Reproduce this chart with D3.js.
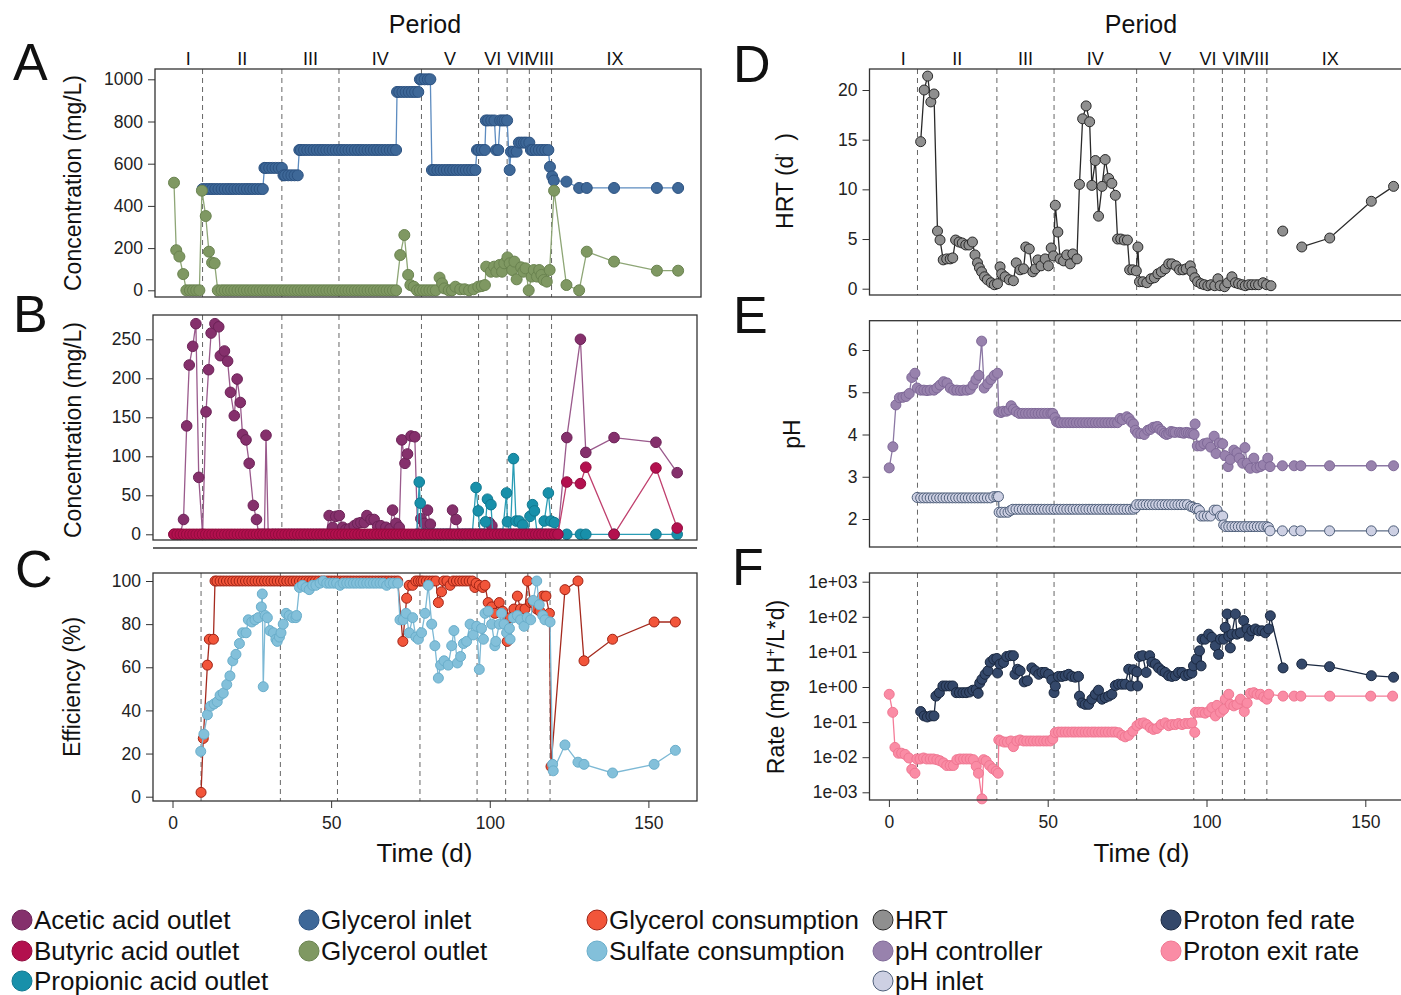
<!DOCTYPE html>
<html><head><meta charset="utf-8">
<script src="https://cdn.jsdelivr.net/npm/d3@7"></script>
<style>body{margin:0;background:#fff}svg text{font-family:"Liberation Sans",Arial,Helvetica,sans-serif;fill:#111}</style>
</head><body><svg id="c" width="1401" height="995"></svg>
<script>
// ---------- DATA ----------
const periodEdges=[0,9,34,52,78,96,105,112,119,159];
const periodNames=["I","II","III","IV","V","VI","VII","VIII","IX"];
const xTickValues=[0,50,100,150];
const ticksA=[0,200,400,600,800,1000];
const ticksB=[0,50,100,150,200,250];
const ticksC=[0,20,40,60,80,100];
const ticksD=[0,5,10,15,20];
const ticksE=[2,3,4,5,6];
const ticksF=[1e-3,1e-2,1e-1,1,10,100,1000];

const glycerolInlet=[[9,480],[10,480],[11,480],[12,480],[13,480],[14,480],[15,480],[16,480],[17,480],[18,480],[19,480],[20,480],[21,480],[22,480],[23,480],[24,480],[25,480],[26,480],[27,480],[28,480],[28.5,580],[29,580],[30,580],[31,580],[32,580],[33,580],[34,580],[34.5,545],[35,545],[36,545],[37,545],[38,545],[39,545],[39.5,665],[40,665],[41,665],[42,665],[43,665],[44,665],[45,665],[46,665],[47,665],[48,665],[49,665],[50,665],[51,665],[52,665],[53,665],[54,665],[55,665],[56,665],[57,665],[58,665],[59,665],[60,665],[61,665],[62,665],[63,665],[64,665],[65,665],[66,665],[67,665],[68,665],[69,665],[70,665],[70.3,940],[71,940],[72,940],[73,940],[74,940],[75,940],[76,940],[77,940],[77.5,1000],[78,1000],[79,1000],[80,1000],[80.8,1000],[81.3,570],[82,570],[83,570],[84,570],[85,570],[86,570],[87,570],[88,570],[89,570],[90,570],[91,570],[92,570],[93,570],[94,570],[95,570],[95.5,665],[96,665],[97,665],[98,665],[98.3,805],[99,805],[100,805],[101,805],[101.5,665],[102.2,665],[102.8,805],[103.5,805],[104.2,805],[105,805],[105.8,570],[106.2,657],[107,657],[108,657],[108.7,700],[109.5,700],[110.3,700],[111,700],[112,700],[112.5,665],[113,665],[114,665],[115,665],[116,665],[117,665],[118,665],[118.5,585],[119.2,540],[119.7,520],[123.7,515],[127.7,485],[130.1,485],[138.7,485],[152.2,485],[158.9,485]];

const glycerolOutlet=[[0,510],[0.7,190],[1.7,160],[2.9,77],[3.9,0],[5,0],[6,0],[7,0],[8,0],[8.8,472],[10,352],[11,183],[12,131],[12.8,128],[13.8,0],[15,0],[16,0],[17,0],[18,0],[19,0],[20,0],[21,0],[22,0],[23,0],[24,0],[25,0],[26,0],[27,0],[28,0],[29,0],[30,0],[31,0],[32,0],[33,0],[34,0],[35,0],[36,0],[37,0],[38,0],[39,0],[40,0],[41,0],[42,0],[43,0],[44,0],[45,0],[46,0],[47,0],[48,0],[49,0],[50,0],[51,0],[52,0],[53,0],[54,0],[55,0],[56,0],[57,0],[58,0],[59,0],[60,0],[61,0],[62,0],[63,0],[64,0],[65,0],[66,0],[67,0],[68,0],[69,0],[70,0],[71.3,167],[72.6,262],[73.8,73],[74.5,25],[75.6,17],[76.6,0],[77.5,0],[78.5,0],[79.5,0],[80.5,0],[81.5,0],[82.5,0],[83.7,60],[84.5,33],[85.2,9],[86.6,0],[87.6,0],[88.7,17],[90.2,5],[91.6,5],[93,0],[94.4,5],[95.9,17],[97,20],[98,25],[98.4,112],[99.9,88],[100.9,112],[101.6,88],[102.6,120],[103.4,88],[104.1,128],[105.1,156],[105.8,128],[106.6,96],[107.3,136],[108,52],[109.4,109],[110.1,88],[110.8,104],[111.8,0],[112.7,65],[113.4,96],[114.4,65],[115.1,96],[115.8,73],[116.5,49],[117.5,41],[118.4,96],[119.8,472],[123.7,25],[127.7,0],[130.1,183],[138.7,136],[152.2,93],[158.9,93]];

const aceticOutlet=[[0,0],[1,0],[2,0],[3,19],[4,139],[4.8,217],[5.9,241],[6.9,270],[7.8,73],[9,0],[10.1,157],[10.9,211],[11.7,258],[12.9,270],[14.1,266],[14.6,229],[15.9,235],[16.9,222],[17.8,182],[19,152],[19.9,199],[20.9,169],[21.6,128],[22.7,121],[23.7,91],[25,37],[26,19],[26.7,0],[27.6,0],[28.5,0],[29,127],[29.7,0],[31,0],[32,0],[33,0],[34,0],[35,0],[36,0],[37,0],[38,0],[39,0],[40,0],[41,0],[42,0],[43,0],[44,0],[45,0],[46,0],[47,0],[48,0],[48.9,24],[50,9],[51,23],[52.1,24],[53.2,9],[54.2,6],[55.3,7],[56.8,11],[57.9,14],[58.9,15],[60,15],[60.8,24],[62.1,19],[63.1,19],[64.2,10],[65.2,11],[66.8,9],[68.1,7],[68.9,31],[70,14],[71,9],[71.8,121],[72.8,91],[73.6,103],[74.7,126],[75.9,125],[76.8,0],[77.8,20],[78.9,14],[79.9,31],[80.8,13],[82,0],[83,0],[84,0],[85,0],[86,0],[86.8,0],[87.8,31],[88.9,19],[89.9,0],[91,0],[92,0],[93,0],[94,0],[95,0],[96,0],[97,0],[98,0],[99.4,15],[100.2,11],[101.2,0],[102,0],[103,0],[104,0],[105,0],[106,0],[107,0],[108,0],[109,0],[110,0],[111,0],[112,0],[113,0],[114,0],[115,0],[116,0],[117,0],[118,0],[119,0],[120,0],[121,0],[123.8,124],[128.1,250],[129.8,105],[138.7,124],[151.9,118],[158.6,79]];

const butyricOutlet=[[0,0],[1,0],[2,0],[3,0],[4,0],[5,0],[6,0],[7,0],[8,0],[9,0],[10,0],[11,0],[12,0],[13,0],[14,0],[15,0],[16,0],[17,0],[18,0],[19,0],[20,0],[21,0],[22,0],[23,0],[24,0],[25,0],[26,0],[27,0],[28,0],[29,0],[30,0],[31,0],[32,0],[33,0],[34,0],[35,0],[36,0],[37,0],[38,0],[39,0],[40,0],[41,0],[42,0],[43,0],[44,0],[45,0],[46,0],[47,0],[48,0],[49,0],[50,0],[51,0],[52,0],[53,0],[54,0],[55,0],[56,0],[57,0],[58,0],[59,0],[60,0],[61,0],[62,0],[63,0],[64,0],[65,0],[66,0],[67,0],[68,0],[69,0],[70,0],[71,0],[72,0],[73,0],[74,0],[75,0],[76,0],[77,0],[78,0],[79,0],[80,0],[81,0],[82,0],[83,0],[84,0],[85,0],[86,0],[87,0],[88,0],[89,0],[90,0],[91,0],[92,0],[93,0],[94,0],[95,0],[96,0],[97,0],[98,0],[99,0],[100,0],[101,0],[102,0],[103,0],[104,0],[105,0],[106,0],[107,0],[108,0],[109,0],[110,0],[111,0],[112,0],[113,0],[114,0],[115,0],[116,0],[117,0],[118,0],[119,0],[120,0],[121,0],[123.8,67],[128.1,65],[129.8,86],[138.7,0],[151.9,85],[158.6,8]];

const propionicOutlet=[[76.5,0],[77.3,67],[77.6,40],[78,0],[79,0],[80,0],[81,0],[82,0],[83,0],[84,0],[85,0],[86,0],[87,0],[88,0],[89,0],[90,0],[91,0],[92,0],[93,0],[94,0],[95.2,60],[95.9,30],[96.5,0],[97.5,0],[98.2,16],[98.8,45],[99.9,38],[100.5,0],[101.5,0],[102.5,0],[103.5,0],[104.8,53],[105.1,16],[106,0],[107,97],[107.8,17],[108.8,17],[109.9,12],[110.8,0],[111.5,0],[112.2,23],[113,38],[113.6,30],[114.5,0],[115.5,0],[116.7,17],[118,53],[118.8,17],[119.9,15],[120.8,0],[123.8,0],[128.1,0],[129.8,0],[138.7,0],[151.9,0],[158.6,0]];

const glycerolConsumption=[[9,2],[9.7,27],[11,61],[11.6,73],[12.9,73],[13.4,100],[14,100],[15,100],[16,100],[17,100],[18,100],[19,100],[20,100],[21,100],[22,100],[23,100],[24,100],[25,100],[26,100],[27,100],[28,100],[29,100],[30,100],[31,100],[32,100],[33,100],[34,100],[35,100],[36,100],[37,100],[38,100],[39,100],[40,100],[41,100],[42,100],[43,100],[44,100],[45,100],[46,100],[47,100],[48,100],[49,100],[50,100],[51,100],[52,100],[53,100],[54,100],[55,100],[56,100],[57,100],[58,100],[59,100],[60,100],[61,100],[62,100],[63,100],[64,100],[65,100],[66,100],[67,100],[68,100],[69,100],[70,100],[71,100],[72.6,72],[73.8,92],[74.6,98],[75.7,98],[76.7,100],[77.5,100],[78.3,100],[79,100],[80,100],[81,100],[82,100],[83,100],[83.8,90],[84.8,95],[85.5,100],[86.5,100],[87.5,98],[88.5,100],[89.5,100],[90.5,100],[91.5,100],[92.5,100],[93.5,100],[94.5,100],[95.3,97],[95.7,99],[96.7,98],[97.8,97],[98.5,98],[99.5,90],[100.6,88],[101.6,85],[103,90],[104.1,86],[105.5,72],[106.4,83],[107.6,87],[108.7,93],[109.7,87],[111.1,87],[111.9,100],[112.9,90],[113.7,90],[114.8,87],[115.8,86],[116.7,93],[117.7,93],[118.8,85],[119.3,14],[123.7,96],[127.8,100],[129.7,63],[138.7,73],[151.8,81],[158.5,81]];

const sulfateConsumption=[[8.9,21],[9.9,29],[11,38],[12,42],[13.1,43],[14.1,44],[15,47],[16,48],[17.1,52],[18.1,56],[19,63],[20,66],[21.1,71],[22.1,76],[23.2,76],[23.9,82],[25,81],[26,82],[27,83],[28,88],[28.3,94],[28.6,51],[29.2,84],[29.9,83],[30.7,77],[31.8,76],[32.6,73],[33,72],[33.7,74],[34.2,76],[34.9,80],[35.8,85],[36.8,84],[37.9,83],[38.9,83],[39.1,84],[40,97],[41,98],[42.1,97],[43.1,96],[44.2,98],[45.2,98],[46.5,99],[47.5,100],[48.6,99],[49.6,99],[50.7,99],[51.7,99],[52.8,98],[53.8,99],[54.9,99],[55.9,99],[57,99],[58,99],[59.1,99],[60.1,99],[61.2,99],[62.2,99],[63.3,99],[64.3,99],[65.4,99],[66.4,99],[67.5,98],[68.5,99],[69.6,99],[71,99],[71.7,82],[72.7,82],[73.6,85],[74.6,76],[75.7,83],[76.7,74],[77.5,73],[78.5,76],[79.6,85],[80.6,98],[81.7,80],[82.7,70],[83.8,55],[84.5,61],[85.6,63],[86.9,61],[88,70],[88.7,77],[89.8,62],[90.8,65],[91.7,71],[92.7,72],[93.8,80],[94.8,75],[95.9,79],[96.7,59],[97.4,78],[98,73],[98.5,85],[99.5,86],[100.6,80],[101.6,70],[101.9,72],[103,80],[103.7,85],[104.5,80],[105.3,76],[106.2,78],[106.4,73],[107.4,83],[108.7,84],[109.7,82],[110.8,79],[111.8,83],[112.9,82],[113.7,91],[114.8,100],[115.6,89],[116.7,84],[117.4,82],[119,81],[119.8,15],[120,12],[123.7,24],[127.8,16],[129.7,15],[138.7,11],[151.8,15],[158.5,21.5]];

const hrt=[[10,14.8],[11.1,20],[12.2,21.4],[13.2,18.8],[14.2,19.6],[15.3,5.8],[16.1,4.9],[17.1,2.9],[18.2,3],[19.3,3],[20.1,3.1],[21,4.9],[22.1,4.7],[23.1,4.6],[24.2,4.4],[25.2,4.4],[26.3,4.7],[27.1,3.4],[27.9,2.6],[28.5,2.1],[29.2,1.7],[30.1,1.2],[31,0.9],[32.2,0.6],[33.2,0.4],[34.2,0.5],[35,2.2],[35.5,1.5],[36.6,1.2],[37.9,0.9],[39.2,0.8],[40.1,2.6],[41.3,1.9],[42.4,2],[43.1,4.2],[44.2,4],[45.3,1.7],[46.1,2],[46.9,2.9],[47.9,2.3],[49.2,3],[50.2,2.3],[51.1,4.1],[51.8,3.3],[52.4,8.4],[53.2,5.7],[53.9,3],[55,2.8],[56,3.4],[57.1,2.5],[57.9,3.5],[59.2,3],[60,10.5],[61,17.1],[62.1,18.4],[63.2,16.8],[63.9,10.4],[65,12.9],[66,7.3],[67.1,10.3],[68.1,13],[69.2,11.1],[70.2,10.6],[71.3,9.4],[72,5],[73,5],[74.1,4.9],[75.1,4.9],[75.8,1.9],[76.8,1.9],[77.9,1.8],[78.4,4.2],[78.9,0.7],[80,0.7],[81.2,0.6],[82.5,1],[83.6,1.1],[84.7,1.5],[85.8,1.7],[87,2],[88.1,2.5],[89.1,2.5],[90.4,2.3],[91.5,1.9],[92.6,1.9],[93.6,2],[94.9,2.3],[95.4,1.7],[96.3,1.1],[97.2,0.7],[98.3,0.5],[99.3,0.4],[100.4,0.3],[101.4,0.4],[102.6,0.3],[103.6,1],[104.3,0.3],[105.7,0.2],[106.7,0.6],[108,1.2],[109.1,0.6],[110.1,0.5],[111.2,0.4],[112.2,0.3],[113.3,0.4],[114.3,0.4],[115.4,0.4],[116.4,0.4],[117.8,0.6],[118.9,0.4],[120.3,0.3],[121,null],[124,5.8],[128,null],[130,4.2],[138.8,5.1],[151.9,8.8],[158.9,10.3]];

const phController=[[0.1,3.21],[1.25,3.71],[2.2,4.7],[3.3,4.87],[4.4,4.88],[5.4,4.9],[6.4,4.97],[7.2,5.35],[8.2,5.45],[8.9,5.1],[10,5.05],[11,5.05],[12,5.04],[13,5.05],[14.2,5.05],[15.1,5.1],[16.1,5.17],[17.2,5.25],[18.3,5.22],[19.3,5.1],[20.4,5.05],[21.4,5.05],[22.5,5.04],[23.5,5.05],[24.6,5.05],[25.6,5.07],[26.5,5.17],[27.4,5.3],[28.3,5.4],[29.2,6.21],[30,5.1],[31.1,5.2],[32.1,5.3],[33.2,5.4],[34.2,5.45],[34.6,4.54],[35.3,4.52],[36,4.55],[37,4.55],[37.8,4.58],[38.5,4.68],[39.2,4.6],[40.1,4.54],[41,4.5],[42,4.5],[43,4.5],[44,4.5],[45,4.5],[46,4.5],[47,4.5],[48,4.5],[49,4.5],[50,4.5],[51,4.5],[51.6,4.5],[52.3,4.4],[52.8,4.3],[53.5,4.28],[54,4.28],[55,4.28],[56,4.28],[57,4.28],[58,4.28],[59,4.28],[60,4.28],[61,4.28],[62,4.28],[63,4.28],[64,4.28],[65,4.28],[66,4.28],[67,4.28],[68,4.28],[69,4.28],[70,4.28],[71,4.28],[72,4.28],[72.8,4.38],[73.5,4.35],[74.9,4.42],[75.6,4.38],[76.3,4.3],[77,4.25],[77.6,4.1],[78.3,4.03],[79.3,4.02],[80.4,4],[81.5,4.1],[82.3,4.12],[83.2,4.17],[84,4.18],[84.6,4.19],[85.3,4.12],[86,4.08],[86.7,4.03],[87.4,4],[88.1,4.02],[88.8,4.07],[89.5,4.06],[90.1,4.05],[91.5,4.05],[92.2,4.04],[92.9,4.03],[93.6,4.05],[94.3,4.04],[95,4.03],[95.7,4.03],[96.1,4],[96.4,4.25],[97.1,3.73],[98.2,3.73],[99.2,3.78],[100.3,3.8],[101.3,3.7],[102.4,3.96],[103,3.55],[104,3.8],[105.1,3.78],[105.8,3.5],[106.8,3.24],[107.5,3.41],[108.6,3.63],[109.6,3.57],[110.3,3.44],[111.4,3.32],[112.1,3.69],[112.8,3.32],[113.8,3.2],[114.9,3.44],[115.8,3.21],[116.9,3.24],[117.9,3.28],[119.3,3.44],[120,3.24],[123.9,3.26],[127.6,3.26],[129.7,3.26],[138.75,3.26],[151.9,3.26],[158.9,3.26]];

const phInlet=[[8.9,2.51],[10,2.5],[11,2.5],[12,2.5],[13,2.5],[14,2.5],[15,2.5],[16,2.5],[17,2.5],[18,2.5],[19,2.5],[20,2.5],[21,2.5],[22,2.5],[23,2.5],[24,2.5],[25,2.5],[26,2.5],[27,2.5],[28,2.5],[29,2.5],[30,2.5],[31,2.5],[32,2.5],[33,2.53],[34,2.53],[34.5,2.53],[34.7,2.16],[35.5,2.16],[36.5,2.16],[37.5,2.16],[38.3,2.2],[39,2.23],[40,2.23],[41,2.23],[42,2.23],[43,2.23],[44,2.23],[45,2.23],[46,2.23],[47,2.23],[48,2.23],[49,2.23],[50,2.23],[51,2.23],[52,2.23],[53,2.23],[54,2.23],[55,2.23],[56,2.23],[57,2.23],[58,2.23],[59,2.23],[60,2.23],[61,2.23],[62,2.23],[63,2.23],[64,2.23],[65,2.23],[66,2.23],[67,2.23],[68,2.23],[69,2.23],[70,2.23],[71,2.23],[72,2.23],[73,2.23],[74,2.23],[75,2.23],[76,2.23],[77,2.23],[77.6,2.26],[78,2.34],[79,2.34],[80,2.34],[81,2.34],[82,2.34],[83,2.34],[84,2.34],[85,2.34],[86,2.34],[87,2.34],[88,2.34],[89,2.34],[90,2.34],[91,2.34],[92,2.34],[93,2.34],[94,2.34],[95,2.3],[95.7,2.28],[96.5,2.25],[97.1,2.25],[97.8,2.2],[98.2,2.07],[99.2,2.07],[100.3,2.07],[101.3,2.07],[102.4,2.21],[103.3,2.21],[104.4,2.07],[105.1,2.07],[105.4,1.86],[106.1,1.82],[107,1.82],[108,1.82],[109,1.82],[110,1.82],[111,1.82],[112,1.82],[113,1.82],[114,1.82],[115,1.82],[116,1.82],[117,1.82],[118,1.82],[119,1.82],[119.5,1.8],[120,1.72],[123.9,1.72],[127.6,1.72],[129.7,1.72],[138.75,1.72],[151.9,1.72],[158.9,1.72]];

const protonFedRate=[[10,0.2],[11.1,0.15],[12.1,0.14],[13.2,0.15],[14.2,0.15],[14.8,0.55],[15.9,0.69],[17,1.07],[18,1.07],[19.1,1.07],[20.1,1.07],[21.2,0.69],[22.2,0.69],[23.3,0.69],[24.3,0.69],[25.4,0.72],[26.4,0.81],[27.5,0.85],[28.1,0.66],[28.6,1.3],[29.3,1.66],[30.3,2.3],[31.2,2.9],[31.9,5.1],[33,6.2],[34,6.5],[34.2,2.5],[35,4.5],[36.1,5],[37.1,7.4],[38.2,7.8],[39.2,7.8],[39.7,2.3],[40.5,3.2],[41.3,2.9],[42.6,1.4],[43.6,1.5],[45,3.5],[46.1,2.9],[47.2,2.3],[48.2,2.6],[49.2,2.6],[50.3,2.3],[51.3,1.6],[52,0.69],[52.4,1.07],[53.4,2],[54.5,2],[55.5,2.1],[56.6,2.3],[57.6,2],[58.7,1.9],[59.7,2],[60,0.55],[60.8,0.35],[61.8,0.32],[62.9,0.32],[63.9,0.45],[65,0.62],[66,0.81],[67.1,0.45],[68.1,0.5],[69.2,0.55],[70.2,0.62],[71.3,1.1],[72.3,1.2],[73.4,1.2],[74.4,1.2],[75.5,3.2],[76.2,1.07],[77,3.1],[78.1,2.7],[78.3,1.07],[78.9,7.4],[79.9,7.8],[81,2.6],[82.1,7.8],[82.8,5.1],[83.9,4.5],[84.9,3.5],[86,2.9],[87,2.6],[88.1,2.1],[89.1,2],[90.2,2.1],[91.2,2.6],[92.3,2.6],[93.3,2.1],[94.4,2.3],[95.4,2.5],[95.9,4],[96.8,6.2],[97.8,10.7],[98.3,4],[98.6,23],[99.6,23],[100.7,32],[101.7,26],[102.8,15],[103.8,8.5],[104.4,23],[105.4,23],[105.9,50],[106.5,120],[107,28],[107.5,13],[108,32],[109.1,120],[109.6,32],[110.7,35],[111.7,78],[112.8,45],[113.3,28],[114.3,40],[115.4,45],[116.4,40],[117.5,40],[118.5,35],[119.6,45],[120.1,107],[124.1,3.5],[128,null],[130,4.5],[138.75,3.8],[151.9,2.1],[158.9,1.9]];

const protonExitRate=[[0.1,0.62],[1.2,0.19],[1.9,0.019],[3,0.013],[4,0.013],[5.1,0.012],[6.3,0.0095],[7.2,0.0045],[8.2,0.0035],[8.8,0.0089],[9.8,0.0089],[10.9,0.0095],[11.9,0.0089],[13,0.0089],[14,0.0089],[15.1,0.0085],[16.1,0.0079],[17.2,0.0069],[18.2,0.0058],[19.3,0.0058],[20.3,0.0058],[21.4,0.0085],[22.4,0.0089],[23.5,0.0089],[24.5,0.0089],[25.6,0.0089],[26.6,0.0085],[27.5,0.0055],[28.2,0.0035],[29.3,0.00065],[29.8,0.0085],[30.6,0.0078],[31.7,0.0058],[32.7,0.0047],[33.8,0.004],[34.4,0.0035],[34.6,0.031],[35.2,0.029],[36.3,0.027],[37.3,0.027],[38.4,0.029],[39.2,0.02],[40.3,0.029],[41.3,0.031],[42.4,0.029],[43.4,0.029],[44.5,0.029],[45.5,0.029],[46.6,0.029],[47.6,0.029],[48.7,0.029],[49.7,0.029],[50.8,0.029],[51.6,0.033],[52.4,0.05],[53.4,0.052],[54.4,0.052],[55.5,0.052],[56.5,0.052],[57.6,0.052],[58.6,0.052],[59.7,0.052],[60.7,0.052],[61.8,0.052],[62.8,0.052],[63.9,0.052],[64.9,0.052],[66,0.052],[67,0.052],[68.1,0.052],[69.1,0.052],[70.2,0.052],[71.2,0.052],[72.3,0.05],[73.4,0.042],[74.4,0.038],[75.5,0.042],[76.8,0.055],[78.1,0.079],[79.1,0.091],[80.2,0.095],[81.2,0.085],[82.3,0.069],[83.3,0.062],[84.4,0.066],[85.7,0.085],[87,0.095],[88.1,0.079],[89.1,0.085],[90.2,0.085],[91.2,0.091],[92.3,0.085],[93.3,0.091],[94.4,0.091],[95.4,0.095],[96.3,0.051],[96.5,0.19],[97.5,0.19],[98.6,0.19],[99.6,0.18],[100.7,0.2],[101.7,0.26],[102.8,0.15],[103.3,0.3],[104.4,0.19],[105.4,0.23],[105.9,0.45],[107,0.62],[107.5,0.32],[108.6,0.29],[109.6,0.32],[110.7,0.45],[111.9,0.2],[112.8,0.35],[113.8,0.66],[114.9,0.69],[115.9,0.62],[117,0.62],[118,0.52],[119,0.45],[119.6,0.62],[124.1,0.55],[127.6,0.55],[129.7,0.55],[138.8,0.55],[151.7,0.55],[158.6,0.55]];

const legendItems=[
 ["Acetic acid outlet",0,0,"acetic"],["Butyric acid outlet",0,1,"butyric"],["Propionic acid outlet",0,2,"propionic"],
 ["Glycerol inlet",1,0,"glyIn"],["Glycerol outlet",1,1,"glyOut"],
 ["Glycerol consumption",2,0,"glyCons"],["Sulfate consumption",2,1,"sulf"],
 ["HRT",3,0,"hrt"],["pH controller",3,1,"phc"],["pH inlet",3,2,"phi"],
 ["Proton fed rate",4,0,"fed"],["Proton exit rate",4,1,"exit"]];

// ---------- STYLES ----------
const sty={
 glyIn:{fill:"#3e6898",stroke:"#2c5281",line:"#5d8cc0"},
 glyOut:{fill:"#7f9862",stroke:"#6a8350",line:"#8ea676"},
 acetic:{fill:"#85306c",stroke:"#6c2257",line:"#9a5a8c"},
 butyric:{fill:"#b3104e",stroke:"#920b3e",line:"#c0406e"},
 propionic:{fill:"#1890aa",stroke:"#107890",line:"#2a9db5"},
 glyCons:{fill:"#f2553a",stroke:"#a02416",line:"#a52a1e"},
 sulf:{fill:"#83c0da",stroke:"#6aaecb",line:"#7db9d5"},
 hrt:{fill:"#8f8f8f",stroke:"#2a2a2a",line:"#2a2a2a"},
 phc:{fill:"#9882ad",stroke:"#7f6998",line:"#8c78a4"},
 phi:{fill:"#cdd0e3",stroke:"#4f5f7a",line:"#5e6d87"},
 fed:{fill:"#34486a",stroke:"#1a2840",line:"#1a2840"},
 exit:{fill:"#fa8ca5",stroke:"#f07792",line:"#f47c98"}
};

const svg=d3.select("#c");
const xAB=d3.scaleLinear().domain([0,150]).range([174,649.9]);
const xC=d3.scaleLinear().domain([0,150]).range([172.5,648.4]);
const xR=d3.scaleLinear().domain([0,150]).range([888.9,1365.3]);

const fmtExp=d=>{const e=Math.round(Math.log10(d));return "1e"+(e<0?"-":"+")+String(Math.abs(e)).padStart(2,"0");};

const panels=[
 {x:xAB,y:d3.scaleLinear().domain([0,1000]).range([290.3,79.3]),box:[155,69,701,297],ticks:ticksA,series:[[glycerolInlet,"glyIn"],[glycerolOutlet,"glyOut"]],r:5.5,top:true},
 {x:xAB,y:d3.scaleLinear().domain([0,250]).range([534.3,339.3]),box:[153,315,697,540],ticks:ticksB,series:[[aceticOutlet,"acetic"],[propionicOutlet,"propionic"],[butyricOutlet,"butyric"]],r:5.3},
 {x:xC,y:d3.scaleLinear().domain([0,100]).range([796.7,581]),box:[153,573,697,801],ticks:ticksC,series:[[glycerolConsumption,"glyCons"],[sulfateConsumption,"sulf"]],r:5,xaxis:true},
 {x:xR,y:d3.scaleLinear().domain([0,20]).range([288.7,90]),box:[869.5,69,1420,295],ticks:ticksD,series:[[hrt,"hrt"]],r:5,top:true},
 {x:xR,y:d3.scaleLinear().domain([2,6]).range([519,350]),box:[869.5,320.7,1420,547],ticks:ticksE,series:[[phController,"phc"],[phInlet,"phi"]],r:5},
 {x:xR,y:d3.scaleLog().domain([1e-3,1e3]).range([792.3,581.7]),box:[869.5,573,1420,800],ticks:ticksF,fmt:fmtExp,series:[[protonFedRate,"fed"],[protonExitRate,"exit"]],r:5,xaxis:true}
];

panels.forEach(p=>{
 const g=svg.append("g");
 const [x0,y0,x1,y1]=p.box;
 g.selectAll(null).data(periodEdges.slice(1,-1)).join("line")
  .attr("x1",d=>p.x(d)).attr("x2",d=>p.x(d)).attr("y1",y0).attr("y2",y1)
  .attr("stroke","#666").attr("stroke-width",1).attr("stroke-dasharray","5,4");
 p.series.forEach(([data,key])=>{
  const s=sty[key];
  const line=d3.line().defined(d=>d[1]!=null).x(d=>p.x(d[0])).y(d=>p.y(d[1]));
  g.append("path").attr("d",line(data)).attr("fill","none").attr("stroke",s.line).attr("stroke-width",1.3);
  g.selectAll(null).data(data.filter(d=>d[1]!=null)).join("circle")
   .attr("cx",d=>p.x(d[0])).attr("cy",d=>p.y(d[1])).attr("r",p.r)
   .attr("fill",s.fill).attr("stroke",s.stroke).attr("stroke-width",1);
 });
 g.append("rect").attr("x",x0).attr("y",y0).attr("width",x1-x0).attr("height",y1-y0)
  .attr("fill","none").attr("stroke","#333").attr("stroke-width",1.3);
 const ya=g.append("g").attr("transform",`translate(${x0},0)`)
  .call(d3.axisLeft(p.y).tickValues(p.ticks).tickSize(7).tickPadding(5).tickFormat(p.fmt||d3.format("d")));
 ya.select(".domain").remove();
 ya.selectAll("line").attr("stroke","#333");
 ya.selectAll("text").attr("font-size",17.5).attr("font-family",null).style("fill","#222");
 if(p.xaxis){
  const xa=g.append("g").attr("transform",`translate(0,${y1})`)
   .call(d3.axisBottom(p.x).tickValues(xTickValues).tickSize(7).tickPadding(9).tickFormat(d3.format("d")));
  xa.select(".domain").remove();
  xa.selectAll("line").attr("stroke","#333");
  xa.selectAll("text").attr("font-size",17.5).attr("font-family",null).style("fill","#222");
 }
 if(p.top){
  const mids=periodNames.map((n,i)=>[n,(periodEdges[i]+periodEdges[i+1])/2]);
  g.selectAll(null).data(mids).join("text").attr("x",d=>p.x(d[1])).attr("y",65)
   .attr("text-anchor","middle").attr("font-size",18).text(d=>d[0]);
 }
});
// line below B
svg.append("line").attr("x1",153).attr("x2",697).attr("y1",548).attr("y2",548).attr("stroke","#333").attr("stroke-width",1.3);

// titles
const T=(x,y,txt,size,rot)=>{const t=svg.append("text").attr("font-size",size).attr("text-anchor","middle");
 if(rot)t.attr("transform",`translate(${x},${y}) rotate(-90)`);else t.attr("x",x).attr("y",y);
 if(txt!=null)t.text(txt);return t;};
T(425,33,"Period",25);T(1141,33,"Period",25);
T(424.5,862,"Time (d)",26);T(1141.5,862,"Time (d)",26);
T(81,183,"Concentration (mg/L)",23,true);
T(81,430,"Concentration (mg/L)",23,true);
T(80,687,"Efficiency (%)",23,true);
const th=T(793,181,null,23,true).style("white-space","pre");
th.append("tspan").text("HRT (d");th.append("tspan").attr("font-size",11).attr("dy",-9).text("'");th.append("tspan").attr("dy",9).text("  )");
T(800,434,"pH",23,true);
const tr=T(784,687,null,23,true);
tr.append("tspan").text("Rate (mg H");tr.append("tspan").attr("font-size",14).attr("dy",-9).text("+");tr.append("tspan").attr("dy",9).text("/L*d)");
// panel letters
[["A",13,80],["B",13,332],["C",15,587],["D",733,82],["E",733,333],["F",732,585]].forEach(([l,x,y])=>
 svg.append("text").attr("x",x).attr("y",y).attr("font-size",52).text(l));

// legend
const colX=[22,309,597,883,1171], rowY=[920,951,981];
legendItems.forEach(([name,c,r,key])=>{
 svg.append("circle").attr("cx",colX[c]).attr("cy",rowY[r]).attr("r",10)
  .attr("fill",sty[key].fill).attr("stroke",sty[key].stroke).attr("stroke-width",1);
 svg.append("text").attr("x",colX[c]+12).attr("y",rowY[r]+9).attr("font-size",26).text(name);
});
</script></body></html>
